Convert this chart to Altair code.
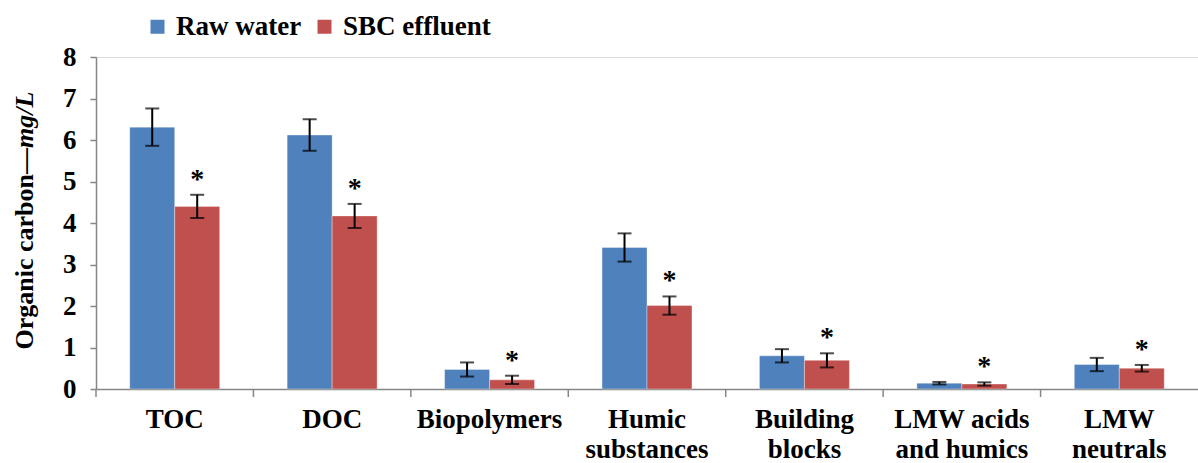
import altair as alt
import pandas as pd

categories = ["TOC", "DOC", "Biopolymers", "Humic substances", "Building blocks",
              "LMW acids and humics", "LMW neutrals"]
label_lines = [["TOC"], ["DOC"], ["Biopolymers"], ["Humic", "substances"],
               ["Building", "blocks"], ["LMW acids", "and humics"], ["LMW", "neutrals"]]
series = ["Raw water", "SBC effluent"]
colors = ["#4F81BD", "#C0504D"]
raw_values = [6.31, 6.12, 0.47, 3.41, 0.80, 0.14, 0.59]
raw_err = [0.45, 0.38, 0.17, 0.34, 0.16, 0.03, 0.16]
sbc_values = [4.40, 4.17, 0.22, 2.01, 0.69, 0.12, 0.50]
sbc_err = [0.28, 0.29, 0.10, 0.22, 0.17, 0.04, 0.08]
sbc_marks = ["*", "*", "*", "*", "*", "*", "*"]
y_ticks = [0, 1, 2, 3, 4, 5, 6, 7, 8]

rows = []
for i, c in enumerate(categories):
    rows.append({"category": c, "series": series[0], "value": raw_values[i],
                 "lo": raw_values[i] - raw_err[i], "hi": raw_values[i] + raw_err[i], "star": ""})
    rows.append({"category": c, "series": series[1], "value": sbc_values[i],
                 "lo": sbc_values[i] - sbc_err[i], "hi": sbc_values[i] + sbc_err[i], "star": sbc_marks[i]})
df = pd.DataFrame(rows)

FONT = "Liberation Serif"
GRAY = "#868686"

label_expr = ""
for c, lines in zip(categories, label_lines):
    arr = "[" + ",".join("'" + s + "'" for s in lines) + "]"
    label_expr += f"datum.value == '{c}' ? {arr} : "
label_expr += "datum.label"

x_axis = alt.Axis(title=None, ticks=False, domainColor=GRAY, domainWidth=1.5,
                  labelFont=FONT, labelFontSize=27, labelFontWeight="bold", labelColor="black",
                  labelPadding=17, labelLineHeight=30, labelAngle=0, labelExpr=label_expr)
y_axis = alt.Axis(title=None, values=y_ticks, grid=False, domainColor=GRAY, domainWidth=1.5,
                  tickColor=GRAY, tickSize=6, tickWidth=1.5,
                  labelFont=FONT, labelFontSize=27, labelFontWeight="bold", labelColor="black",
                  labelPadding=14)

X = alt.X("category:N", sort=categories, axis=x_axis,
          scale=alt.Scale(paddingInner=0, paddingOuter=0))
XO = alt.XOffset("series:N", sort=series, scale=alt.Scale(paddingInner=0, paddingOuter=0.75))
yscale = alt.Scale(domain=[0, 8], nice=False)

base = alt.Chart(df)

bars = base.mark_bar(stroke="white", strokeOpacity=0.35, strokeWidth=1).encode(
    x=X, xOffset=XO,
    y=alt.Y("value:Q", scale=yscale, axis=y_axis),
    color=alt.Color("series:N", scale=alt.Scale(domain=series, range=colors),
                    legend=alt.Legend(orient="none", legendX=48, legendY=-44, direction="horizontal",
                                      title=None, symbolType="square", symbolSize=196,
                                      symbolStrokeWidth=0, labelFont=FONT, labelFontSize=27,
                                      labelFontWeight="bold", labelColor="black",
                                      columnPadding=9, labelOffset=5, padding=0)),
)

err = base.mark_rule(color="black", strokeWidth=2).encode(
    x=X, xOffset=XO, y=alt.Y("lo:Q", scale=yscale, axis=y_axis), y2="hi:Q")
cap_hi = base.mark_tick(color="black", size=14, thickness=2, orient="horizontal").encode(
    x=X, xOffset=XO, y=alt.Y("hi:Q", scale=yscale, axis=y_axis))
cap_lo = base.mark_tick(color="black", size=14, thickness=2, orient="horizontal").encode(
    x=X, xOffset=XO, y=alt.Y("lo:Q", scale=yscale, axis=y_axis))
stars = base.transform_filter(alt.datum.star == "*").mark_text(
    font=FONT, fontSize=28, fontWeight="bold", color="black", baseline="alphabetic", dy=-7
).encode(x=X, xOffset=XO, y=alt.Y("hi:Q", scale=yscale, axis=y_axis), text="star:N")

tick_df = pd.DataFrame({"category": categories})
xticks = alt.Chart(tick_df).mark_rule(color=GRAY, strokeWidth=1.5).encode(
    x=alt.X("category:N", sort=categories, axis=x_axis, bandPosition=0,
            scale=alt.Scale(paddingInner=0, paddingOuter=0)),
    y=alt.value(332), y2=alt.value(340))

title_df = pd.DataFrame({"t": [1]})
title_a = alt.Chart(title_df).mark_text(
    text="Organic carbon\u2014", font=FONT, fontSize=26, fontWeight="bold", color="black",
    angle=270, align="right", baseline="middle"
).encode(x=alt.value(-71), y=alt.value(91))
title_b = alt.Chart(title_df).mark_text(
    text="mg/L", font=FONT, fontSize=26, fontWeight="bold", fontStyle="italic", color="black",
    angle=270, align="left", baseline="middle"
).encode(x=alt.value(-71), y=alt.value(91))

chart = alt.layer(bars, err, cap_hi, cap_lo, stars, xticks, title_a, title_b).properties(
    width=1102, height=332,
    autosize=alt.AutoSizeParams(type="none"),
    padding={"left": 96, "top": 57, "right": 0, "bottom": 74},
    background="white",
).configure_view(stroke=None).configure(font=FONT)

chart.save("out.html", embed_options={"renderer": "svg", "actions": False})
